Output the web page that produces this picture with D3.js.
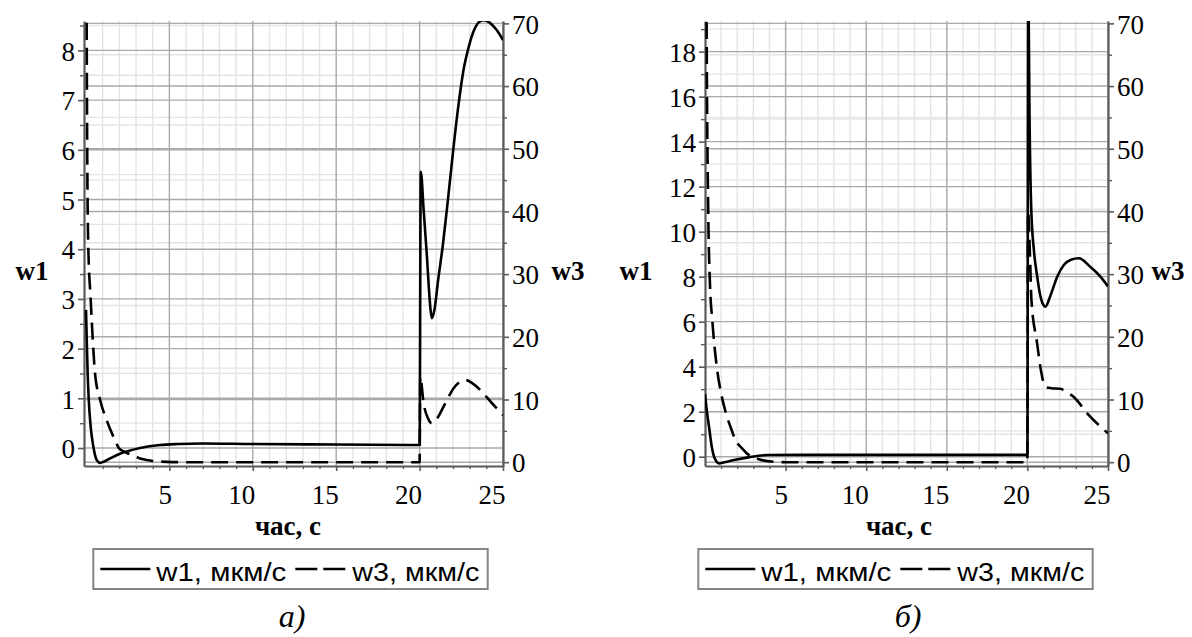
<!DOCTYPE html>
<html>
<head>
<meta charset="utf-8">
<script src="https://cdn.jsdelivr.net/npm/d3@7"></script>
<style>
  html, body { margin: 0; padding: 0; background: #fff; }
  svg { display: block; }
</style>
</head>
<body>
<svg id="fig" width="1192" height="637"></svg>
<script>
// ---- tick values -------------------------------------------------------
const timeTicks = [5, 10, 15, 20, 25];
const w1TicksA = [0, 1, 2, 3, 4, 5, 6, 7, 8];
const w1TicksB = [0, 2, 4, 6, 8, 10, 12, 14, 16, 18];
const w3Ticks = [0, 10, 20, 30, 40, 50, 60, 70];

// ---- text ----------------------------------------------------------------
const xTitle = "час, с";
const leftTitle = "w1";
const rightTitle = "w3";
const legendLabels = ["w1, мкм/с", "w3, мкм/с"];
const captions = ["а)", "б)"];

// ---- series: [time, value] ----------------------------------------------
// panel а): w1 (left axis), w3 (right axis)
const w1A = [
  [0, 2.78], [0.05, 2.1], [0.1, 1.5], [0.16, 1.0], [0.28, 0.43], [0.44, 0.03],
  [0.64, -0.24], [0.84, -0.30], [1.1, -0.27], [1.44, -0.21], [2.0, -0.12],
  [2.44, -0.07], [3.24, 0.0], [4.44, 0.06], [5.5, 0.08], [7, 0.09], [10, 0.08],
  [15, 0.07], [20, 0.06],
  [20.07, 5.56], [20.25, 4.75], [20.44, 3.85], [20.56, 3.2], [20.65, 2.8],
  [20.74, 2.61], [20.9, 2.8], [21.1, 3.35], [21.4, 4.1], [21.7, 5.0],
  [22.0, 5.95], [22.33, 6.9], [22.63, 7.6], [22.93, 8.05], [23.23, 8.38],
  [23.53, 8.56], [23.83, 8.61], [24.2, 8.56], [24.6, 8.42], [25, 8.21]
];
const w3A = [
  [0, 110], [0.04, 70], [0.13, 35], [0.28, 26], [0.44, 18], [0.54, 14.2],
  [0.84, 10], [1.24, 6.7], [1.74, 3.5], [1.98, 2.2], [2.44, 1.5], [3.24, 0.6],
  [4.0, 0.2], [4.84, 0.05], [6, 0], [10, 0], [15, 0], [20, 0],
  [20.04, 13.6], [20.24, 9.4], [20.5, 7.0], [20.74, 6.2], [21.0, 6.8],
  [21.54, 9.4], [22.04, 11.8], [22.74, 13.1], [23.44, 12.0], [24.34, 9.4],
  [25, 7.5]
];

// panel б): w1 (left axis), w3 (right axis)
const w1B = [
  [0, 2.79], [0.12, 2.0], [0.25, 1.33], [0.42, 0.44], [0.56, 0.0], [0.7, -0.2],
  [0.87, -0.3], [1.2, -0.25], [1.8, -0.15], [2.7, -0.03], [3.9, 0.075],
  [6, 0.08], [10, 0.08], [15, 0.08], [20, 0.08],
  [20.05, 20.5], [20.15, 14], [20.24, 11], [20.4, 9.2], [20.61, 8.0],
  [20.77, 7.26], [20.95, 6.8], [21.12, 6.67], [21.4, 7.1], [21.85, 8.0],
  [22.26, 8.52], [22.7, 8.75], [23.19, 8.82], [23.9, 8.44], [24.53, 8.0],
  [25, 7.56]
];
const w3B = [
  [0, 150], [0.1, 70], [0.2, 40], [0.3, 29], [0.46, 22.4], [0.73, 15.2],
  [1.0, 11], [1.28, 8.0], [1.6, 5.5], [1.9, 3.5], [2.3, 2.2], [2.6, 1.4],
  [3.3, 0.5], [4.3, 0.05], [5, 0], [10, 0], [15, 0], [20, 0],
  [20.04, 40], [20.15, 33.8], [20.25, 25.9], [20.6, 19], [20.85, 14.5],
  [21.12, 12.0], [21.5, 11.8], [22.05, 11.7], [22.4, 11.2], [22.88, 10.4],
  [23.71, 7.8], [25, 4.6]
];

// ---- styling --------------------------------------------------------------
const SERIF = "'Liberation Serif', 'Times New Roman', serif";
const SANS = "'Liberation Sans', Arial, sans-serif";
const MAJOR_GRID = "#a9a9a9";
const MINOR_GRID = "#e4e4e4";
const AXIS_COLOR = "#5a5a5a";
const DASH = "17,8";

const svg = d3.select("#fig");

const panels = [
  {
    id: "a", left: 84, right: 503, top: 21, bottom: 466,
    xDomain: [-0.12, 25], w1Domain: [-0.362, 8.592], w3Domain: [-0.61, 70.38],
    w1Ticks: w1TicksA, w1Minor: d3.range(0.5, 8.6, 1),
    w1: w1A, w3: w3A, caption: captions[0],
    leftTitleX: 32, rightTitleX: 568, xTitleX: 288, legendX: 93.3, captionX: 292
  },
  {
    id: "b", left: 705, right: 1108, top: 21, bottom: 466,
    xDomain: [0, 25], w1Domain: [-0.413, 19.36], w3Domain: [-0.61, 70.38],
    w1Ticks: w1TicksB, w1Minor: d3.range(1, 20, 2),
    w1: w1B, w3: w3B, caption: captions[1],
    leftTitleX: 636, rightTitleX: 1168, xTitleX: 899, legendX: 698.3, captionX: 908
  }
];

const timeMinor = d3.range(1, 26).filter(v => v % 5 !== 0);
const w3Minor = d3.range(5, 71, 10);

function drawPanel(p) {
  const g = svg.append("g").attr("class", "panel-" + p.id);
  const x = d3.scaleLinear().domain(p.xDomain).range([p.left, p.right]);
  const yL = d3.scaleLinear().domain(p.w1Domain).range([p.bottom, p.top]);
  const yR = d3.scaleLinear().domain(p.w3Domain).range([p.bottom, p.top]);

  const clipId = "clip-" + p.id;
  g.append("clipPath").attr("id", clipId)
    .append("rect")
    .attr("x", p.left).attr("y", p.top)
    .attr("width", p.right - p.left).attr("height", p.bottom - p.top);

  const grid = g.append("g").attr("clip-path", `url(#${clipId})`);

  function hLines(vals, scale, color) {
    grid.append("g").selectAll("line").data(vals).join("line")
      .attr("x1", p.left).attr("x2", p.right)
      .attr("y1", d => scale(d)).attr("y2", d => scale(d))
      .attr("stroke", color).attr("stroke-width", 1.4);
  }
  function vLines(vals, color) {
    grid.append("g").selectAll("line").data(vals).join("line")
      .attr("y1", p.top).attr("y2", p.bottom)
      .attr("x1", d => x(d)).attr("x2", d => x(d))
      .attr("stroke", color).attr("stroke-width", 1.4);
  }
  // minor grid first, major grid on top
  vLines(timeMinor, MINOR_GRID);
  hLines(p.w1Minor, yL, MINOR_GRID);
  hLines(w3Minor, yR, MINOR_GRID);
  vLines(timeTicks, MAJOR_GRID);
  hLines(p.w1Ticks, yL, MAJOR_GRID);
  hLines(w3Ticks, yR, MAJOR_GRID);

  // axes
  function styleAxis(sel) {
    sel.attr("font-family", SERIF);
    sel.select(".domain").attr("stroke", AXIS_COLOR).attr("stroke-width", 2.2);
    sel.selectAll(".tick line").attr("stroke", AXIS_COLOR).attr("stroke-width", 1.6);
    sel.selectAll("text").style("font-family", SERIF).attr("font-size", 27).attr("fill", "#000");
  }

  const bottomMinor = g.append("g").attr("transform", `translate(0,${p.bottom})`)
    .call(d3.axisBottom(x).tickValues(timeMinor).tickSize(3).tickSizeOuter(0).tickFormat(""));
  bottomMinor.select(".domain").remove();
  bottomMinor.selectAll(".tick line").attr("stroke", AXIS_COLOR).attr("stroke-width", 1.4);

  const bottomAxis = g.append("g").attr("transform", `translate(0,${p.bottom})`)
    .call(d3.axisBottom(x).tickValues(timeTicks).tickSize(5).tickSizeOuter(0).tickPadding(14)
      .tickFormat(d3.format("d")));
  styleAxis(bottomAxis);
  bottomAxis.selectAll("text").attr("text-anchor", "end").attr("x", 2);

  const leftMinor = g.append("g").attr("transform", `translate(${p.left},0)`)
    .call(d3.axisLeft(yL).tickValues(p.w1Minor.filter(v => v <= p.w1Domain[1]))
      .tickSize(4).tickSizeOuter(0).tickFormat(""));
  leftMinor.select(".domain").remove();
  leftMinor.selectAll(".tick line").attr("stroke", AXIS_COLOR).attr("stroke-width", 1.4);

  const leftAxis = g.append("g").attr("transform", `translate(${p.left},0)`)
    .call(d3.axisLeft(yL).tickValues(p.w1Ticks).tickSize(6).tickSizeOuter(0).tickPadding(3)
      .tickFormat(d3.format("d")));
  styleAxis(leftAxis);
  leftAxis.selectAll("text").attr("dy", "0.36em");

  const rightMinor = g.append("g").attr("transform", `translate(${p.right},0)`)
    .call(d3.axisRight(yR).tickValues(w3Minor).tickSize(4).tickSizeOuter(0).tickFormat(""));
  rightMinor.select(".domain").remove();
  rightMinor.selectAll(".tick line").attr("stroke", AXIS_COLOR).attr("stroke-width", 1.4);

  const rightAxis = g.append("g").attr("transform", `translate(${p.right},0)`)
    .call(d3.axisRight(yR).tickValues(w3Ticks).tickSize(6).tickSizeOuter(0).tickPadding(3)
      .tickFormat(d3.format("d")));
  styleAxis(rightAxis);
  rightAxis.selectAll("text").attr("dy", "0.36em");

  // curves
  const plot = g.append("g").attr("clip-path", `url(#${clipId})`);
  const lineL = d3.line().x(d => x(d[0])).y(d => yL(d[1])).curve(d3.curveMonotoneX);
  const lineR = d3.line().x(d => x(d[0])).y(d => yR(d[1])).curve(d3.curveMonotoneX);
  plot.append("path").datum(p.w3).attr("d", lineR)
    .attr("fill", "none").attr("stroke", "#000").attr("stroke-width", 2.6)
    .attr("stroke-dasharray", DASH);
  plot.append("path").datum(p.w1).attr("d", lineL)
    .attr("fill", "none").attr("stroke", "#000").attr("stroke-width", 2.6)
    .attr("stroke-linejoin", "round");

  // axis titles
  g.append("text").attr("x", p.leftTitleX).attr("y", 280).attr("text-anchor", "middle")
    .attr("font-family", SERIF).attr("font-weight", "bold").attr("font-size", 27).text(leftTitle);
  g.append("text").attr("x", p.rightTitleX).attr("y", 280).attr("text-anchor", "middle")
    .attr("font-family", SERIF).attr("font-weight", "bold").attr("font-size", 27).text(rightTitle);
  g.append("text").attr("x", p.xTitleX).attr("y", 535).attr("text-anchor", "middle")
    .attr("font-family", SERIF).attr("font-weight", "bold").attr("font-size", 27).text(xTitle);

  // legend
  const lg = g.append("g").attr("transform", `translate(${p.legendX},549)`);
  lg.append("rect").attr("x", 0).attr("y", 0).attr("width", 394.4).attr("height", 40)
    .attr("fill", "#fff").attr("stroke", "#858585").attr("stroke-width", 2);
  lg.append("line").attr("x1", 7).attr("x2", 57).attr("y1", 20).attr("y2", 20)
    .attr("stroke", "#000").attr("stroke-width", 2.6);
  lg.append("text").attr("x", 63).attr("y", 32)
    .attr("font-family", SANS).attr("font-size", 26)
    .attr("textLength", 130).attr("lengthAdjust", "spacingAndGlyphs").text(legendLabels[0]);
  lg.append("line").attr("x1", 202).attr("x2", 252).attr("y1", 20).attr("y2", 20)
    .attr("stroke", "#000").attr("stroke-width", 2.6).attr("stroke-dasharray", "22,6");
  lg.append("text").attr("x", 259).attr("y", 32)
    .attr("font-family", SANS).attr("font-size", 26)
    .attr("textLength", 127).attr("lengthAdjust", "spacingAndGlyphs").text(legendLabels[1]);

  // caption
  g.append("text").attr("x", p.captionX).attr("y", 627).attr("text-anchor", "middle")
    .attr("font-family", SERIF).attr("font-style", "italic").attr("font-size", 32).text(p.caption);
}

panels.forEach(drawPanel);
</script>
</body>
</html>
